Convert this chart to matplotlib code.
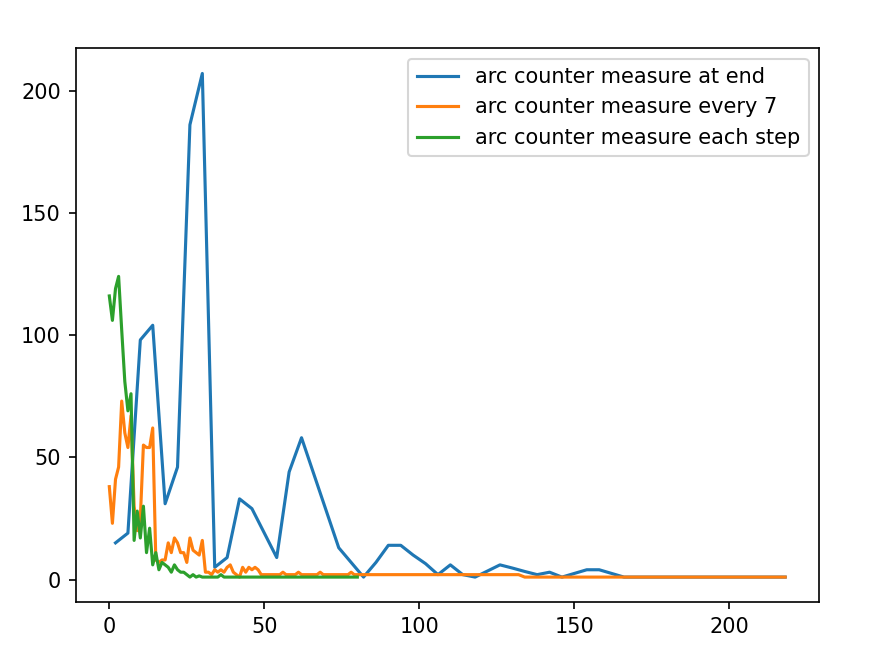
import numpy as np
import matplotlib
matplotlib.use('Agg')
import matplotlib.pyplot as plt
from matplotlib.ticker import MultipleLocator

# blue: measured at end (every 4 steps)
end_x = [2, 6, 10, 14, 18, 22, 26, 30, 34, 38, 42, 46, 50, 54, 58, 62, 66, 70,
         74, 78, 82, 86, 90, 94, 98, 102, 106, 110, 114, 118, 122, 126, 130,
         134, 138, 142, 146, 150, 154, 158, 162, 166, 218]
end_y = [15, 19, 98, 104, 31, 46, 186, 207, 5, 9, 33, 29, 19, 9, 44, 58, 43, 28,
         13, 7, 1, 7, 14, 14, 10, 6.5, 2, 6, 2, 1, 3.5, 6, 4.7,
         3.3, 2, 3, 1, 2.5, 4, 4, 2.5, 1, 1]

# orange: measured every 7
every7_x = list(range(0, 81)) + [132, 134, 218]
every7_y = [38, 23, 41, 46, 73, 60, 54, 67, 30, 20,
            25, 55, 54, 54, 62, 8, 7, 8, 8, 15,
            11, 17, 15, 11, 11, 7, 17, 12, 11, 10,
            16, 3, 3, 2, 4, 3, 4, 3, 5, 6,
            3, 2, 1, 5, 3, 5, 4, 5, 4, 2,
            2, 2, 2, 2, 2, 2, 3, 2, 2, 2,
            2, 3, 2, 2, 2, 2, 2, 2, 3, 2,
            2, 2, 2, 2, 2, 2, 2, 2, 3, 2,
            2, 2, 1, 1]

# green: measured each step
step_x = list(range(0, 81))
step_y = [116, 106, 119, 124, 102, 81, 69, 76, 16, 28,
          17, 30, 11, 21, 6, 11, 4, 7, 6, 5,
          3, 6, 4, 3, 3, 2, 1, 2, 1, 1.5,
          1, 1, 1, 1, 1, 1, 2, 1, 1, 1,
          1, 1, 1, 1, 1, 1, 1, 1, 1, 1,
          1, 1, 1, 1, 1, 1, 1, 1, 1, 1,
          1, 1, 1, 1, 1, 1, 1, 1, 1, 1,
          1, 1, 1, 1, 1, 1, 1, 1, 1, 1,
          1]

fig = plt.figure(figsize=(872 / 150, 656 / 150), dpi=150)
ax = fig.add_axes([0.0866, 0.0819, 0.8526, 0.8445])

ax.plot(end_x, end_y, label='arc counter measure at end')
ax.plot(every7_x, every7_y, label='arc counter measure every 7')
ax.plot(step_x, step_y, label='arc counter measure each step')

ax.yaxis.set_major_locator(MultipleLocator(50))
ax.legend(loc='upper right')

fig.savefig('out.png', dpi=150)
